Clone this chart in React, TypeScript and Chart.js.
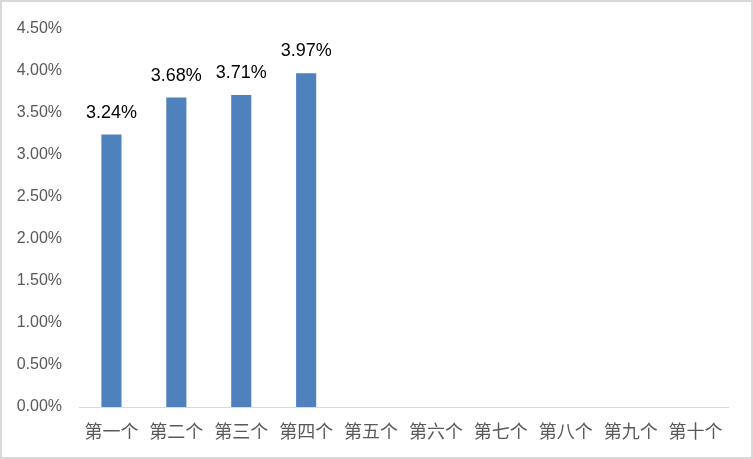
import { useEffect, useRef } from "react"
import { Chart, registerables } from "chart.js"

Chart.register(...registerables)

// categorie e valori (in %)
const categories = ["第一个", "第二个", "第三个", "第四个", "第五个", "第六个", "第七个", "第八个", "第九个", "第十个"]
const values = [3.24, 3.68, 3.71, 3.97, null, null, null, null, null, null]
const yTicks = [0, 0.5, 1, 1.5, 2, 2.5, 3, 3.5, 4, 4.5]

// etichette sopra le barre
const barLabels = {
  id: "barLabels",
  afterDatasetsDraw(chart: any) {
    const ctx = chart.ctx
    const meta = chart.getDatasetMeta(0)
    ctx.save()
    ctx.font = "18px 'Liberation Sans', sans-serif"
    ctx.fillStyle = "#000000"
    ctx.textAlign = "center"
    ctx.textBaseline = "alphabetic"
    meta.data.forEach((bar: any, i: number) => {
      const v = values[i]
      if (v == null) return
      ctx.fillText(v.toFixed(2) + "%", bar.x, bar.y - 17)
    })
    ctx.restore()
  },
}

export default function App() {
  const chartRef = useRef<HTMLCanvasElement>(null)
  const chartInstance = useRef<Chart | null>(null)

  useEffect(() => {
    if (!chartRef.current) return
    if (chartInstance.current) chartInstance.current.destroy()
    const ctx = chartRef.current.getContext("2d")
    if (!ctx) return

    chartInstance.current = new Chart(ctx, {
      type: "bar",
      data: {
        labels: categories,
        datasets: [
          {
            data: values,
            backgroundColor: "#4F81BD",
            categoryPercentage: 1,
            barPercentage: 0.31,
          },
        ],
      },
      options: {
        animation: false,
        responsive: false,
        maintainAspectRatio: false,
        layout: { padding: { top: 22, right: 23, bottom: 0, left: 0 } },
        plugins: {
          legend: { display: false },
          tooltip: { enabled: false },
        },
        scales: {
          x: {
            grid: { display: false, drawTicks: false },
            border: { display: true, color: "#d9d9d9", width: 1 },
            ticks: {
              color: "#595959",
              font: { family: "'Noto Sans CJK SC'", size: 18 },
              padding: 13,
              maxRotation: 0,
              autoSkip: false,
            },
            afterFit: (scale: any) => {
              scale.height = 50
            },
          },
          y: {
            min: 0,
            max: 4.5,
            afterBuildTicks: (scale: any) => {
              scale.ticks = yTicks.map((v) => ({ value: v }))
            },
            grid: { display: false, drawTicks: false },
            border: { display: false },
            ticks: {
              color: "#595959",
              font: { family: "'Liberation Sans'", size: 16 },
              padding: 17,
              callback: (v: any) => Number(v).toFixed(2) + "%",
            },
            afterFit: (scale: any) => {
              scale.width = 77
            },
          },
        },
      },
      plugins: [barLabels],
    })

    return () => {
      if (chartInstance.current) chartInstance.current.destroy()
    }
  }, [])

  return (
    <div
      style={{
        position: "absolute",
        left: 0,
        top: 0,
        width: 753,
        height: 459,
        boxSizing: "border-box",
        border: "2px solid #d9d9d9",
        background: "#ffffff",
      }}
    >
      <canvas ref={chartRef} width={749} height={455} style={{ display: "block" }} />
    </div>
  )
}
